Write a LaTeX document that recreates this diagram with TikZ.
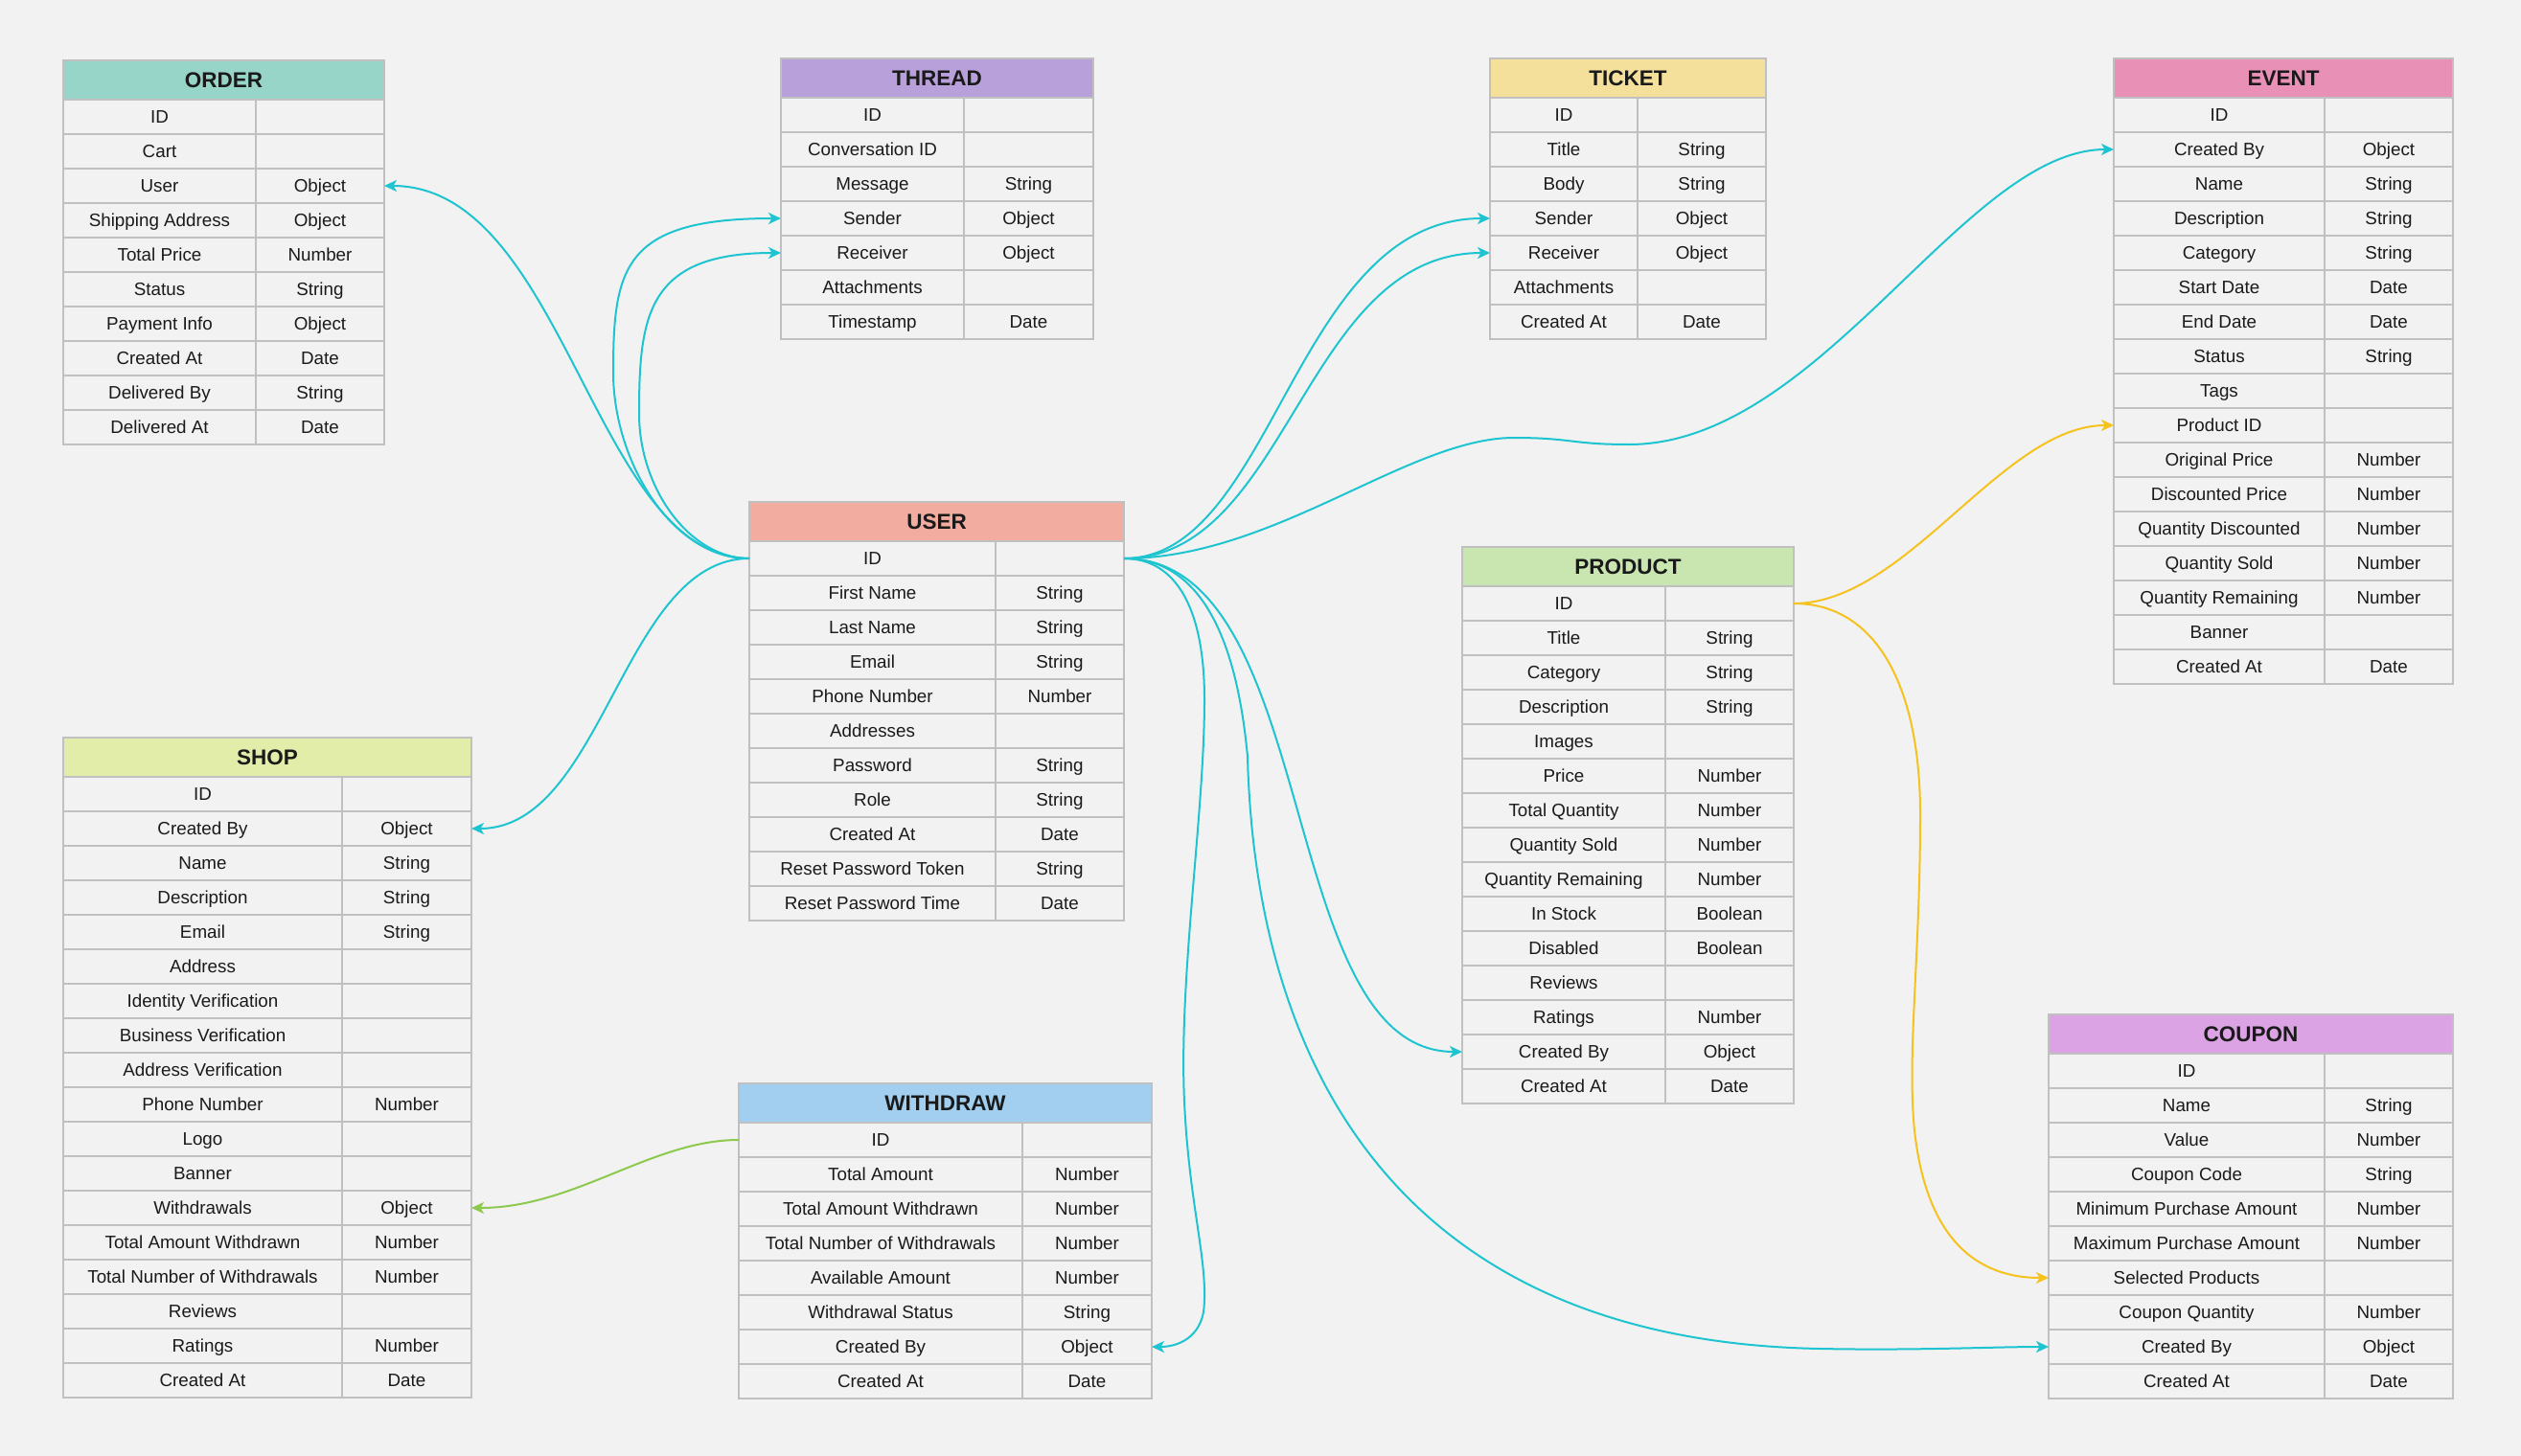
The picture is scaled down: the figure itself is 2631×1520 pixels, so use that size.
\documentclass[tikz,border=0pt]{standalone}
\usepackage{fontspec}
\setmainfont{Liberation Sans}
\usetikzlibrary{arrows.meta}
\definecolor{bg}{RGB}{242,242,242}
\definecolor{gridc}{RGB}{192,192,192}
\definecolor{txt}{RGB}{26,26,26}
\definecolor{cOrder}{RGB}{150,213,200}
\definecolor{cThread}{RGB}{184,160,218}
\definecolor{cTicket}{RGB}{245,224,155}
\definecolor{cEvent}{RGB}{232,144,182}
\definecolor{cUser}{RGB}{242,172,160}
\definecolor{cProduct}{RGB}{201,229,176}
\definecolor{cShop}{RGB}{226,237,170}
\definecolor{cWithdraw}{RGB}{162,207,240}
\definecolor{cCoupon}{RGB}{219,163,227}
\definecolor{lnCyan}{RGB}{30,196,208}
\definecolor{lnYellow}{RGB}{245,194,30}
\definecolor{lnGreen}{RGB}{140,201,76}
\tikzset{
 hdr/.style={draw=gridc, line width=1.5pt, inner sep=0pt, outer sep=0pt},
 hdrtext/.style={inner sep=0pt, outer sep=0pt, anchor=base, text=txt, font=\bfseries\fontsize{22.5}{26}\selectfont},
 rowbox/.style={draw=gridc, line width=1.5pt, fill=bg, inner sep=0pt, outer sep=0pt},
 celltext/.style={inner sep=0pt, outer sep=0pt, anchor=base, text=txt, font=\fontsize{18.8}{22}\selectfont},
 gridline/.style={draw=gridc, line width=1.5pt},
 rel/.style={line width=2pt, -{Stealth[length=13pt,width=12pt,inset=3.5pt]}},
 relcyan/.style={rel, draw=lnCyan, color=lnCyan},
 relyellow/.style={rel, draw=lnYellow, color=lnYellow},
 relgreen/.style={rel, draw=lnGreen, color=lnGreen},
}
% #1 name, #2 left, #3 top, #4 right, #5 column x, #6 colour, #7 title, #8 rows
\newcommand{\ertable}[8]{%
  \pgfmathsetmacro\tw{#4-#2}%
  \pgfmathsetmacro\tcx{(#2+#4)/2}%
  \pgfmathsetmacro\tcy{#3+20.5}%
  \node[hdr, fill=#6, minimum width=\tw pt, minimum height=41pt] (#1) at (\tcx,\tcy) {};
  \node[hdrtext] (#1-title) at (\tcx,\tcy+8) {#7};
  \foreach \a/\b [count=\i from 0] in {#8} {%
    \pgfmathsetmacro\ry{#3+41+36*\i+18}%
    \node[rowbox, minimum width=\tw pt, minimum height=36pt] (#1-\i) at (\tcx,\ry) {};
    \draw[gridline] (#5,\ry-18) -- (#5,\ry+18);
    \node[celltext] (#1-\i-n) at ({(#2+#5)/2},\ry+6.7) {\a};
    \node[celltext] (#1-\i-t) at ({(#5+#4)/2},\ry+6.7) {\b};
  }%
}
\begin{document}
\begin{tikzpicture}[x=1pt,y=-1pt]
\useasboundingbox[fill=bg] (0,0) rectangle (2631,1520);

\ertable{order}{66}{63}{401}{267}{cOrder}{ORDER}{ID/{},Cart/{},User/Object,Shipping Address/Object,Total Price/Number,Status/String,Payment Info/Object,Created At/Date,Delivered By/String,Delivered At/Date}

\ertable{thread}{815}{61}{1141}{1006}{cThread}{THREAD}{ID/{},Conversation ID/{},Message/String,Sender/Object,Receiver/Object,Attachments/{},Timestamp/Date}

\ertable{ticket}{1555}{61}{1843}{1709}{cTicket}{TICKET}{ID/{},Title/String,Body/String,Sender/Object,Receiver/Object,Attachments/{},Created At/Date}

\ertable{event}{2206}{61}{2560}{2426}{cEvent}{EVENT}{ID/{},Created By/Object,Name/String,Description/String,Category/String,Start Date/Date,End Date/Date,Status/String,Tags/{},Product ID/{},Original Price/Number,Discounted Price/Number,Quantity Discounted/Number,Quantity Sold/Number,Quantity Remaining/Number,Banner/{},Created At/Date}

\ertable{user}{782}{524}{1173}{1039}{cUser}{USER}{ID/{},First Name/String,Last Name/String,Email/String,Phone Number/Number,Addresses/{},Password/String,Role/String,Created At/Date,Reset Password Token/String,Reset Password Time/Date}

\ertable{product}{1526}{571}{1872}{1738}{cProduct}{PRODUCT}{ID/{},Title/String,Category/String,Description/String,Images/{},Price/Number,Total Quantity/Number,Quantity Sold/Number,Quantity Remaining/Number,In Stock/Boolean,Disabled/Boolean,Reviews/{},Ratings/Number,Created By/Object,Created At/Date}

\ertable{shop}{66}{770}{492}{357}{cShop}{SHOP}{ID/{},Created By/Object,Name/String,Description/String,Email/String,Address/{},Identity Verification/{},Business Verification/{},Address Verification/{},Phone Number/Number,Logo/{},Banner/{},Withdrawals/Object,Total Amount Withdrawn/Number,Total Number of Withdrawals/Number,Reviews/{},Ratings/Number,Created At/Date}

\ertable{withdraw}{771}{1131}{1202}{1067}{cWithdraw}{WITHDRAW}{ID/{},Total Amount/Number,Total Amount Withdrawn/Number,Total Number of Withdrawals/Number,Available Amount/Number,Withdrawal Status/String,Created By/Object,Created At/Date}

\ertable{coupon}{2138}{1059}{2560}{2426}{cCoupon}{COUPON}{ID/{},Name/String,Value/Number,Coupon Code/String,Minimum Purchase Amount/Number,Maximum Purchase Amount/Number,Selected Products/{},Coupon Quantity/Number,Created By/Object,Created At/Date}

% connectors from USER (left side)
\draw[relcyan] (user-0.west) .. controls +(-162,0) and +(189,0) .. (order-2.east);
\draw[relcyan] (user-0.west) .. controls +(-82,0) and (640,480) .. (640,389)
   .. controls (640,280) and +(-165,0) .. (thread-3.west);
\draw[relcyan] (user-0.west) .. controls +(-62,0) and (667,510) .. (667,432)
   .. controls (667,330) and +(-140,0) .. (thread-4.west);
\draw[relcyan] (user-0.west) .. controls +(-132,0) and +(138,0) .. (shop-1.east);

% connectors from USER (right side)
\draw[relcyan] (user-0.east) .. controls +(157,0) and +(-205,0) .. (ticket-3.west);
\draw[relcyan] (user-0.east) .. controls +(172,0) and +(-195,0) .. (ticket-4.west);
\draw[relcyan] (user-0.east) .. controls +(157,0) and (1470,457) .. (1580,457)
   .. controls (1640,457) and (1640,464) .. (1700,464)
   .. controls (1900,464) and +(-156,0) .. (event-1.west);
\draw[relcyan] (user-0.east) .. controls +(207,0) and +(-196,0) .. (product-13.west);
\draw[relcyan] (user-0.east) .. controls +(57,0) and (1257,640) .. (1257,730)
   .. controls (1257,850) and (1230,1020) .. (1236,1150)
   .. controls (1241,1260) and (1262,1320) .. (1256,1370)
   .. controls (1250,1400) and +(23,0) .. (withdraw-6.east);
\draw[relcyan] (user-0.east) .. controls +(77,0) and (1290,660) .. (1302,790)
   .. controls (1310,1100) and (1450,1400) .. (1900,1408)
   .. controls (2000,1410) and +(-58,0) .. (coupon-8.west);

% connectors from PRODUCT
\draw[relyellow] (product-0.east) .. controls +(118,0) and +(-116,0) .. (event-9.west);
\draw[relyellow] (product-0.east) .. controls +(88,0) and (2004,720) .. (2004,850)
   .. controls (2004,1000) and (1990,1100) .. (1998,1180)
   .. controls (2010,1290) and +(-78,0) .. (coupon-6.west);

% connector from WITHDRAW
\draw[relgreen] (withdraw-0.west) .. controls +(-91,0) and +(108,0) .. (shop-12.east);
\end{tikzpicture}
\end{document}
